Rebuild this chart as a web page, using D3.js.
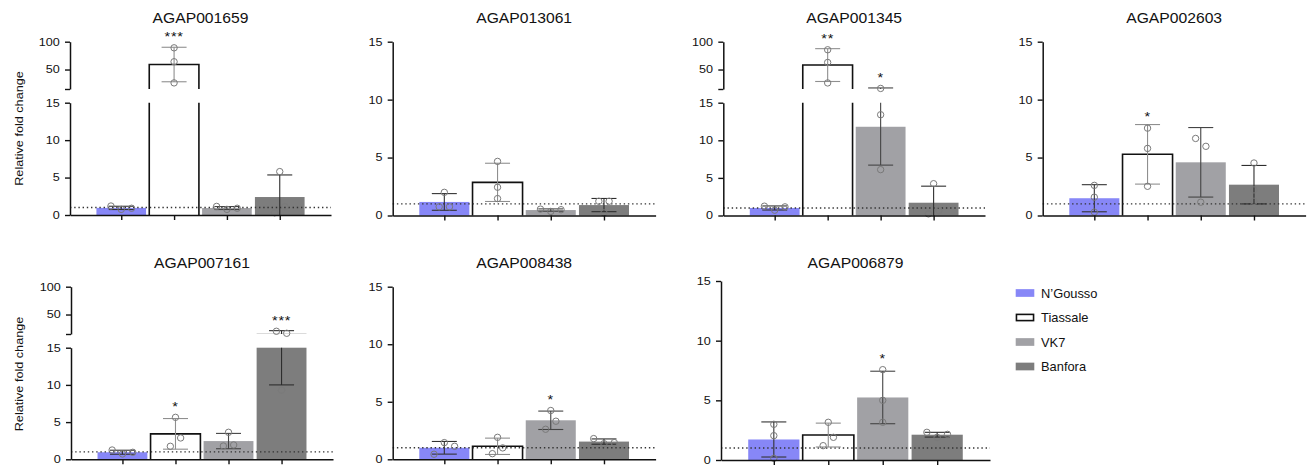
<!DOCTYPE html>
<html>
<head>
<meta charset="utf-8">
<script src="https://cdn.jsdelivr.net/npm/d3@7"></script>
<style>
  body { margin: 0; background: #fff; }
  svg { display: block; font-family: 'Liberation Sans', Arial, Helvetica, sans-serif; }
</style>
</head>
<body>
<div id="chart"></div>
<script>
// values (mean, SD and the three replicates per strain)
const genes = ['AGAP001659', 'AGAP013061', 'AGAP001345', 'AGAP002603', 'AGAP007161', 'AGAP008438', 'AGAP006879'];
const strains = ['N\u2019Gousso', 'Tiassale', 'VK7', 'Banfora'];
const brokenAxis = [true, false, true, false, true, false, false];

const means = [
  [0.95, 59, 0.93, 2.4],
  [1.17, 2.86, 0.47, 0.9],
  [1.0, 58, 11.8, 1.7],
  [1.49, 5.28, 4.59, 2.66],
  [0.95, 3.42, 2.45, 15.5],
  [1.0, 1.13, 3.39, 1.54],
  [1.72, 2.09, 5.24, 2.12],
];
const sds = [
  [0.22, 31, 0.2, 2.95],
  [0.72, 1.65, 0.1, 0.57],
  [0.27, 29.5, 5.1, 2.2],
  [1.17, 2.57, 3.0, 1.66],
  [0.27, 2.06, 1.03, 5.5],
  [0.55, 0.71, 0.8, 0.23],
  [1.47, 1.0, 2.2, 0.2],
];
const replicates = [
  [[1.2, 0.75, 0.9], [89, 64, 26], [1.15, 0.75, 0.9], [5.8, 0.3, 1.1]],
  [[2.0, 0.75, 0.75], [4.67, 2.44, 1.46], [0.55, 0.35, 0.5], [1.23, 1.23, 0.23]],
  [[1.24, 0.7, 1.15], [85.5, 62.7, 25.9], [16, 13.4, 6.1], [4.23, 0.22, 0.66]],
  [[2.6, 1.58, 0.29], [7.54, 5.79, 2.52], [6.65, 5.97, 1.15], [4.53, 2.21, 1.23]],
  [[1.25, 0.72, 0.94], [5.64, 1.75, 2.87], [3.63, 1.79, 1.93], [19.9, 16.3, 9.3]],
  [[0.44, 1.45, 1.13], [1.91, 0.49, 0.99], [4.24, 2.61, 3.31], [1.8, 1.36, 1.45]],
  [[2.99, 2.04, 0.14], [3.16, 1.2, 1.9], [7.57, 5.0, 3.16], [2.32, 1.9, 2.15]],
];
const stars = [
  ['', '***', '', ''],
  ['', '', '', ''],
  ['', '**', '*', ''],
  ['', '*', '', ''],
  ['', '*', '', '***'],
  ['', '', '*', ''],
  ['', '', '*', ''],
];
const lowerTicks = [0, 5, 10, 15];
const upperTicks = [15, 50, 100];
const referenceLevel = 1;
const yLabel = 'Relative fold change';

const width = 1310, height = 468;
const fills = ['#8787f7', '#ffffff', '#a1a1a5', '#7d7d7d'];
const outlined = [false, true, false, false];
const errColors = ['#333', '#8f8f8f', '#444', '#2e2e2e'];

// panel frames: axis left, x range end, top of y axis, zero line
const frames = [
  { x0: 70, x1: 331, top: 41.7, bottom: 215 },
  { x0: 392.7, x1: 655.6, top: 41.7, bottom: 215.5 },
  { x0: 723.3, x1: 985, top: 41.7, bottom: 215.5 },
  { x0: 1042.7, x1: 1305.6, top: 41.7, bottom: 215.5 },
  { x0: 71, x1: 333, top: 286.7, bottom: 459.3 },
  { x0: 392.7, x1: 655.6, top: 286.7, bottom: 459.3 },
  { x0: 721, x1: 990, top: 281, bottom: 460 },
];

const svg = d3.select('#chart').append('svg')
  .attr('width', width)
  .attr('height', height);

function addText(parent, x, y, str, size, sx, anchor) {
  return parent.append('text')
    .attr('transform', `translate(${x},${y}) scale(${sx},1)`)
    .attr('text-anchor', anchor || 'middle')
    .attr('fill', '#111')
    .style('font-size', size + 'px')
    .text(str);
}

function styleAxis(sel) {
  sel.attr('font-family', null).attr('font-size', null);
  sel.select('.domain').attr('stroke', '#111').attr('stroke-width', 1.5);
  sel.selectAll('.tick line').attr('stroke', '#111').attr('stroke-width', 1.4);
  sel.selectAll('.tick text')
    .attr('fill', '#111')
    .attr('transform', 'scale(1.2,1)')
    .style('font-size', '10.5px');
}

const r = 3.2;

genes.forEach((gene, gi) => {
  const f = frames[gi];
  const g = svg.append('g');

  const x = d3.scalePoint().domain(strains).range([f.x0, f.x1]).padding(0.97);
  const bw = x.step() * 0.94;

  let segments;
  if (brokenAxis[gi]) {
    const yHi = d3.scaleLinear().domain([15, 100]).range([f.top + 47.3, f.top]);
    const yLo = d3.scaleLinear().domain([0, 15]).range([f.bottom, f.top + 61]);
    segments = [{ y: yLo, lo: 0, hi: 15 }, { y: yHi, lo: 15, hi: 100 }];
  } else {
    const y = d3.scaleLinear().domain([0, 15]).range([f.bottom, f.top]);
    segments = [{ y: y, lo: 0, hi: 15 }];
  }
  const yPix = (v) => {
    const s = segments.find((s) => v <= s.hi) || segments[segments.length - 1];
    return s.y(v);
  };

  // bars, cut at the axis break
  segments.forEach((s) => {
    strains.forEach((st, si) => {
      const m = means[gi][si];
      if (m <= s.lo) return;
      const yt = s.y(Math.min(m, s.hi)), yb = s.y(s.lo);
      const xl = x(st) - bw / 2, xr = x(st) + bw / 2;
      g.append('rect')
        .attr('x', xl)
        .attr('y', yt)
        .attr('width', bw)
        .attr('height', yb - yt)
        .attr('fill', fills[si]);
      if (outlined[si]) {
        const d = m <= s.hi
          ? `M${xl},${yb}V${yt}H${xr}V${yb}`
          : `M${xl},${yb}V${yt}M${xr},${yt}V${yb}`;
        g.append('path')
          .attr('d', d)
          .attr('fill', 'none')
          .attr('stroke', '#111')
          .attr('stroke-width', 1.6);
      }
    });
  });

  // dotted reference line at fold change 1
  const yRef = segments[0].y(referenceLevel);
  g.append('line')
    .attr('x1', f.x0)
    .attr('x2', f.x1)
    .attr('y1', yRef)
    .attr('y2', yRef)
    .attr('stroke', '#333')
    .attr('stroke-width', 1.4)
    .attr('stroke-dasharray', '1.4,2.8');

  // error bars (mean +/- SD)
  strains.forEach((st, si) => {
    const m = means[gi][si], sd = sds[gi][si];
    const lo = Math.max(0, m - sd), hi = m + sd;
    const cx = x(st);
    segments.forEach((s) => {
      const a = Math.max(lo, s.lo), b = Math.min(hi, s.hi);
      if (b > a) {
        g.append('line')
          .attr('x1', cx).attr('x2', cx)
          .attr('y1', s.y(a)).attr('y2', s.y(b))
          .attr('stroke', errColors[si])
          .attr('stroke-width', 1.1);
      }
    });
    const caps = [hi];
    if (m - sd > 0) caps.push(m - sd);
    caps.forEach((v) => {
      g.append('line')
        .attr('x1', cx - 12.5).attr('x2', cx + 12.5)
        .attr('y1', yPix(v)).attr('y2', yPix(v))
        .attr('stroke', errColors[si])
        .attr('stroke-width', 1.1);
    });
  });

  // replicate points, spread sideways when they overlap
  strains.forEach((st, si) => {
    const pts = replicates[gi][si].map((v, i) => ({ v: v, i: i, py: yPix(v) }));
    const sorted = pts.slice().sort((a, b) => a.py - b.py);
    const clusters = [];
    sorted.forEach((p) => {
      const last = clusters[clusters.length - 1];
      if (last && p.py - last[last.length - 1].py < 8.5) last.push(p);
      else clusters.push([p]);
    });
    clusters.forEach((c) => {
      c.sort((a, b) => a.i - b.i);
      c.forEach((p, k) => { p.dx = (k - (c.length - 1) / 2) * 10.3; });
    });
    g.selectAll(null)
      .data(pts)
      .join('circle')
      .attr('cx', (d) => x(st) + d.dx)
      .attr('cy', (d) => d.py)
      .attr('r', r)
      .attr('fill', 'none')
      .attr('stroke', '#7a7a7a')
      .attr('stroke-width', 1);

    if (stars[gi][si]) {
      const m = means[gi][si], sd = sds[gi][si];
      const top = Math.min(yPix(m + sd), d3.min(pts, (d) => d.py - r));
      addText(g, x(st), top - 3.2, stars[gi][si], 12, 1.2, 'middle')
        .style('letter-spacing', '0.6px');
    }
  });

  // axes
  g.append('g')
    .attr('transform', `translate(0,${f.bottom})`)
    .call(d3.axisBottom(x).tickSize(5).tickSizeOuter(0).tickFormat(''))
    .call(styleAxis);

  g.append('g')
    .attr('transform', `translate(${f.x0},0)`)
    .call(d3.axisLeft(segments[0].y).tickValues(lowerTicks).tickSize(5).tickSizeOuter(0).tickPadding(3.5))
    .call(styleAxis);

  if (brokenAxis[gi]) {
    g.append('g')
      .attr('transform', `translate(${f.x0},0)`)
      .call(d3.axisLeft(segments[1].y).tickValues(upperTicks).tickSize(5).tickSizeOuter(0).tickPadding(3.5)
        .tickFormat((d) => (d === 15 ? '' : d)))
      .call(styleAxis);
  }

  // title
  const titleY = gi < 4 ? 23.3 : 268.3;
  addText(svg, (f.x0 + f.x1) / 2, titleY, gene, 14, 1.12, 'middle');

  // y label on the first panel of each row
  if (gi === 0 || gi === 4) {
    const cy = gi === 0 ? 128.5 : 374;
    svg.append('text')
      .attr('transform', `translate(22.5,${cy}) rotate(-90) scale(1.1,1)`)
      .attr('text-anchor', 'middle')
      .attr('fill', '#111')
      .style('font-size', '11.5px')
      .text(yLabel);
  }
});

// legend
const legend = svg.append('g').attr('transform', 'translate(1015.7,293)');
strains.forEach((st, i) => {
  const row = legend.append('g').attr('transform', `translate(0,${i * 24.5})`);
  row.append('rect')
    .attr('x', outlined[i] ? 0.75 : 0)
    .attr('y', outlined[i] ? -3.1 : -3.85)
    .attr('width', outlined[i] ? 17.1 : 18.6)
    .attr('height', outlined[i] ? 6.2 : 7.7)
    .attr('fill', fills[i])
    .attr('stroke', outlined[i] ? '#111' : 'none')
    .attr('stroke-width', 1.6);
  addText(row, 25.3, 4.5, st, 12.5, 1.03, 'start');
});
</script>
</body>
</html>
